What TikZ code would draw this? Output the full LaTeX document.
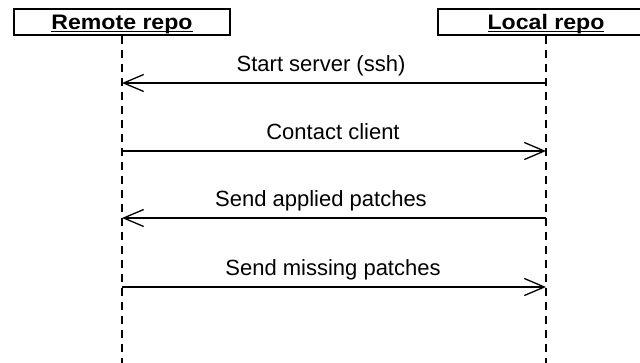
\documentclass[tikz,border=0pt]{standalone}
\usepackage{fontspec}
\setmainfont{Liberation Sans}
\usetikzlibrary{arrows.meta, positioning}
\tikzset{
    repo/.style={rectangle, draw=black, line width=1.4pt, minimum width=216pt, minimum height=26pt, inner sep=0pt, text height=20pt, text depth=5pt, font=\fontsize{21}{23}\selectfont\bfseries},
    lifeline/.style={line width=1.3pt, dash pattern=on 8pt off 6pt},
    msg/.style={line width=1.3pt, -{Straight Barb[length=20pt, width=17pt, line width=1.3pt]}},
    msglabel/.style={anchor=base, inner sep=0pt, font=\fontsize{22}{24}\selectfont}
}
\newcommand{\repotitle}[1]{\setbox0\hbox{\scalebox{1.1}[1]{#1}}\rlap{\rule[-3pt]{\wd0}{1.4pt}}\box0}

\begin{document}
\begin{tikzpicture}[x=1pt, y=-1pt]
    \useasboundingbox (0,0) rectangle (640,363);
    \clip (0,0) rectangle (640,363);

    \node (remote) [repo] at (122,22) {\repotitle{Remote repo}};
    \node (local) [repo] at (546,22) {\repotitle{Local repo}};

    \coordinate (remote end) at (remote.south |- 0,363);
    \coordinate (local end) at (local.south |- 0,363);
    \draw [lifeline] (remote.south) -- (remote end);
    \draw [lifeline] (local.south) -- (local end);

    % message points on the lifelines
    \coordinate (r1) at (remote.south |- 0,83);
    \coordinate (l1) at (local.south |- 0,83);
    \coordinate (r2) at (remote.south |- 0,151);
    \coordinate (l2) at (local.south |- 0,151);
    \coordinate (r3) at (remote.south |- 0,218);
    \coordinate (l3) at (local.south |- 0,218);
    \coordinate (r4) at (remote.south |- 0,287);
    \coordinate (l4) at (local.south |- 0,287);

    \draw [msg] (l1) -- (r1);
    \draw [msg] (r2) -- (l2);
    \draw [msg] (l3) -- (r3);
    \draw [msg] (r4) -- (l4);

    \node (start) [msglabel] at (321,72) {Start server (ssh)};
    \node (contact) [msglabel] at (333,140) {Contact client};
    \node (applied) [msglabel] at (321,207) {Send applied patches};
    \node (missing) [msglabel] at (333,276) {Send missing patches};
\end{tikzpicture}
\end{document}
